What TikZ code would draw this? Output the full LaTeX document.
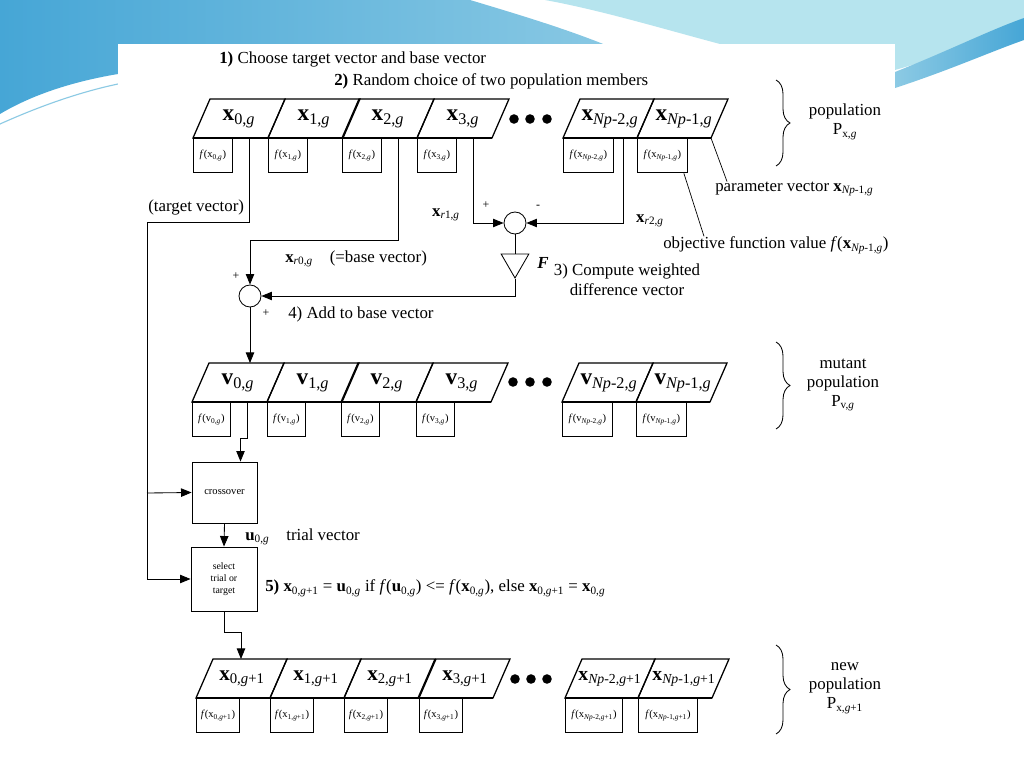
\documentclass[tikz,border=0pt]{standalone}
\usepackage{fontspec}
\setmainfont{Liberation Serif}
\usepackage{amsmath}
\usetikzlibrary{arrows.meta,positioning,calc,shapes.geometric,decorations.pathreplacing}

\definecolor{wavedeep}{RGB}{70,166,214}
\definecolor{wavesoft}{RGB}{140,202,228}
\definecolor{wavepale}{RGB}{182,228,238}

\newcommand{\bsub}[2]{\textbf{#1}$_{\text{#2}}$}
\newcommand{\rsub}[2]{#1$_{\text{#2}}$}
\newcommand{\itg}{\textit{g}}
\newcommand{\itNp}{\textit{Np}}

\begin{document}
\begin{tikzpicture}[x=0.025cm, y=-0.025cm,
		cellbox/.style={draw, line width=0.9pt, line join=miter},
		cellbase/.style={line width=2pt},
		celltxt/.style={font=\fontsize{16.5}{18}\selectfont, inner sep=0pt},
		nptxt/.style={font=\fontsize{15}{17}\selectfont, inner sep=0pt},
		fcell/.style={draw, fill=white, line width=0.6pt, anchor=north west, inner sep=0pt,
			minimum width=#1, minimum height=0.86cm, font=\fontsize{7.5}{8}\selectfont},
		wire/.style={line width=0.6pt},
		arr/.style={wire, -{Triangle[length=7.5pt, width=6pt]}},
		sumnode/.style={draw, circle, line width=0.6pt, minimum size=0.55cm, inner sep=0pt},
		opbox/.style={draw, line width=0.6pt, inner sep=1pt, align=center},
		lbl/.style={font=\fontsize{12}{14}\selectfont, inner sep=0pt},
		poptxt/.style={font=\fontsize{12}{13.5}\selectfont, inner sep=0pt, align=center},
		sign/.style={font=\fontsize{8.5}{9}\selectfont, inner sep=0pt},
		bracket/.style={decorate, decoration={brace, amplitude=0.35cm}, line width=0.6pt}
		]
		% slide background
		\useasboundingbox (0,0) rectangle (1024,768);
		\fill[white] (0,0) rectangle (1024,768);
		\shade[left color=wavedeep, right color=wavesoft] (0,0) -- (470,0)
			.. controls (530,18) and (590,36) .. (640,60) -- (118,60) -- (118,74)
			.. controls (70,82) and (30,96) .. (0,114) -- cycle;
		\fill[wavepale] (545,0) -- (1024,0) -- (1024,22) .. controls (975,45) and (930,60) .. (895,70)
			-- (895,44) -- (720,44) .. controls (660,28) and (600,10) .. (545,0) -- cycle;
		\shade[left color=wavesoft, right color=wavedeep] (895,72) .. controls (950,50) and (990,30) .. (1024,18)
			-- (1024,40) .. controls (990,52) and (950,70) .. (895,88) -- cycle;
		\draw[wavesoft, line width=0.8pt] (0,124) .. controls (40,106) and (80,92) .. (118,84);
		\fill[white] (118,44) rectangle (895,745);
		
		% steps 1 and 2
		\node[lbl, anchor=west] (step1) at (219,59) {\textbf{1)} Choose target vector and base vector};
		\node[lbl, anchor=west] (step2) at (334,81) {\textbf{2)} Random choice of two population members};
		
		% population x_g
		\foreach \i/\bx in {0/193,1/268,2/342,3/417}{
			\draw[cellbox] (\bx,138) -- ++(75,0) -- ++(17,-39) -- ++(-75,0) -- cycle;
			\node[celltxt] (x\i) at (\bx+46,119) {\bsub{x}{\i,\itg}};
			\node[fcell=0.975cm] (fx\i) at (\bx,138) {\textit{f}(\rsub{x}{\i,\itg})};
		}
		\draw[cellbox] (563,138) -- ++(74,0) -- ++(17,-39) -- ++(-74,0) -- cycle;
		\draw[cellbox] (637,138) -- ++(74,0) -- ++(17,-39) -- ++(-74,0) -- cycle;
		\node[celltxt] (xm2) at (610,119) {\bsub{x}{\itNp-2,\itg}};
		\node[celltxt] (xm1) at (684,119) {\bsub{x}{\itNp-1,\itg}};
		\node[fcell=1.25cm] (fxm2) at (563,138) {\textit{f}(\rsub{x}{\itNp-2,\itg})};
		\node[fcell=1.25cm] (fxm1) at (637,138) {\textit{f}(\rsub{x}{\itNp-1,\itg})};
		\draw[cellbase] (193,138) -- (492,138);
		\draw[cellbase] (563,138) -- (711,138);
		\foreach \dx in {514,530,547} \fill (\dx,119) circle (3.4pt);
		\draw[bracket] (776,80) -- (776,166);
		\node[poptxt] (pop1) at (845,122) {population\\\rsub{P}{x,\itg}};
		
		\node[lbl, anchor=west] (param) at (715,189) {parameter vector \bsub{x}{\itNp-1,\itg}};
		\node[lbl, anchor=west] (objlbl) at (663,245) {objective function value \textit{f}(\bsub{x}{\itNp-1,\itg})};
		\coordinate (xm1c) at (711,138);
		\draw[wire, line width=0.5pt] (xm1c) -- ($(param.north west)+(12,0)$);
		\draw[wire, line width=0.5pt] ($(fxm1.south east)+(-4,0)$) -- ($(objlbl.north west)+(41,0)$);
		
		% difference and base vector
		\coordinate (x0b) at (249,138);
		\coordinate (x2b) at (398,138);
		\coordinate (x3b) at (473,138);
		\coordinate (xm2b) at (623,138);
		\node[sumnode] (s1) at (515,223) {};
		\node[draw, regular polygon, regular polygon sides=3, shape border rotate=180,
			minimum size=0.8cm, inner sep=0pt, line width=0.6pt] (amp) at (515,262) {};
		\node[sumnode] (s2) at (250,296) {};
		\draw[arr] (x3b) |- (s1.west);
		\draw[arr] (xm2b) |- (s1.east);
		\draw[wire] (s1.south) -- (amp.side 2);
		\draw[arr] (amp.corner 1) |- (s2.east);
		\coordinate (bbend) at (398,240);
		\draw[arr] (x2b) -- (bbend) -| (s2.north);
		
		\node[lbl, anchor=west] (tgtlbl) at (148,207) {(target vector)};
		\node[lbl] (r1lbl) at (446,215) {\bsub{x}{\textit{r}1,\itg}};
		\node[lbl] (r2lbl) at (650,221) {\bsub{x}{\textit{r}2,\itg}};
		\node[sign] (p1) at (486,205) {+};
		\node[sign] (m1) at (538,207) {-};
		\node[lbl, font=\fontsize{12}{13}\selectfont\bfseries\itshape] (Flbl) at (543,263) {F};
		\node[lbl, align=center] (step3) at (627,280) {3) Compute weighted\\difference vector};
		\node[lbl, anchor=west] (r0lbl) at (285,259) {\bsub{x}{\textit{r}0,\itg}\quad(=base vector)};
		\node[sign] (p2) at (236,276) {+};
		\node[sign] (p3) at (266,313) {+};
		\node[lbl, anchor=west] (step4) at (288,314) {4) Add to base vector};
		
		% mutant population v_g
		\coordinate (v0t) at (250,363);
		\draw[arr] (s2.south) -- (v0t);
		\foreach \i/\bx in {0/192,1/267,2/341,3/416}{
			\draw[cellbox] (\bx,402) -- ++(75,0) -- ++(17,-39) -- ++(-75,0) -- cycle;
			\node[celltxt] (v\i) at (\bx+46,383) {\bsub{v}{\i,\itg}};
			\node[fcell=0.95cm] (fv\i) at (\bx,402) {\textit{f}(\rsub{v}{\i,\itg})};
		}
		\draw[cellbox] (562,402) -- ++(74,0) -- ++(17,-39) -- ++(-74,0) -- cycle;
		\draw[cellbox] (636,402) -- ++(74,0) -- ++(17,-39) -- ++(-74,0) -- cycle;
		\node[celltxt] (vm2) at (609,383) {\bsub{v}{\itNp-2,\itg}};
		\node[celltxt] (vm1) at (683,383) {\bsub{v}{\itNp-1,\itg}};
		\node[fcell=1.25cm] (fvm2) at (562,402) {\textit{f}(\rsub{v}{\itNp-2,\itg})};
		\node[fcell=1.25cm] (fvm1) at (636,402) {\textit{f}(\rsub{v}{\itNp-1,\itg})};
		\draw[cellbase] (192,402) -- (491,402);
		\draw[cellbase] (562,402) -- (710,402);
		\foreach \dx in {513,530,547} \fill (\dx,382) circle (3.4pt);
		\draw[bracket] (776,342) -- (776,429);
		\node[poptxt] (pop2) at (843,385) {mutant\\population\\\rsub{P}{v,\itg}};
		
		% crossover and selection
		\node[opbox, minimum width=1.625cm, minimum height=1.525cm, font=\fontsize{7.5}{9}\selectfont] (cross) at (224.5,492.5) {crossover};
		\node[opbox, minimum width=1.65cm, minimum height=1.6cm, font=\fontsize{7}{8.5}\selectfont] (sel) at (224,579) {select\\trial or\\target};
		\coordinate (v0b) at (247,402);
		\draw[arr] (v0b) -- ++(0,36) -| ([xshift=0.4cm]cross.north);
		\draw[arr] (cross.south) -- (sel.north);
		\coordinate (tbend) at (147,222);
		\coordinate (tsplit) at (147,493);
		\draw[arr] (x0b) |- (tbend) |- (sel.west);
		\draw[arr] (tsplit) -- (cross.west);
		\node[lbl, anchor=west] (ulbl) at (245,537) {\bsub{u}{0,\itg}\quad trial vector};
		\node[lbl, anchor=west] (step5) at (265,588) {\textbf{5)} \bsub{x}{0,\itg+1} = \bsub{u}{0,\itg} if \textit{f}(\bsub{u}{0,\itg}) <= \textit{f}(\bsub{x}{0,\itg}), else \bsub{x}{0,\itg+1} = \bsub{x}{0,\itg}};
		
		% new population x_g+1
		\coordinate (n0t) at (241,659);
		\draw[arr] (sel.south) -- ++(0,21) -| (n0t);
		\foreach \i/\bx in {0/196,1/270,2/344,3/419}{
			\draw[cellbox] (\bx,698) -- ++(74,0) -- ++(17,-39) -- ++(-74,0) -- cycle;
			\node[nptxt] (n\i) at (\bx+46,679) {\bsub{x}{\i,\itg+1}};
			\node[fcell=1.075cm] (fn\i) at (\bx,698) {\textit{f}(\rsub{x}{\i,\itg+1})};
		}
		\draw[cellbox] (565,698) -- ++(73,0) -- ++(17,-39) -- ++(-73,0) -- cycle;
		\draw[cellbox] (638,698) -- ++(74,0) -- ++(17,-39) -- ++(-74,0) -- cycle;
		\node[nptxt, font=\fontsize{14}{16}\selectfont] (nm2) at (610,679) {\bsub{x}{\itNp-2,\itg+1}};
		\node[nptxt, font=\fontsize{14}{16}\selectfont] (nm1) at (684,679) {\bsub{x}{\itNp-1,\itg+1}};
		\node[fcell=1.425cm] (fnm2) at (565,698) {\textit{f}(\rsub{x}{\itNp-2,\itg+1})};
		\node[fcell=1.475cm] (fnm1) at (638,698) {\textit{f}(\rsub{x}{\itNp-1,\itg+1})};
		\draw[cellbase] (196,698) -- (493,698);
		\draw[cellbase] (565,698) -- (712,698);
		\foreach \dx in {515,531,547} \fill (\dx,679) circle (3.4pt);
		\draw[bracket] (776,645) -- (776,734);
		\node[poptxt] (pop3) at (845,688) {new\\population\\\rsub{P}{x,\itg+1}};
	\end{tikzpicture}
\end{document}
